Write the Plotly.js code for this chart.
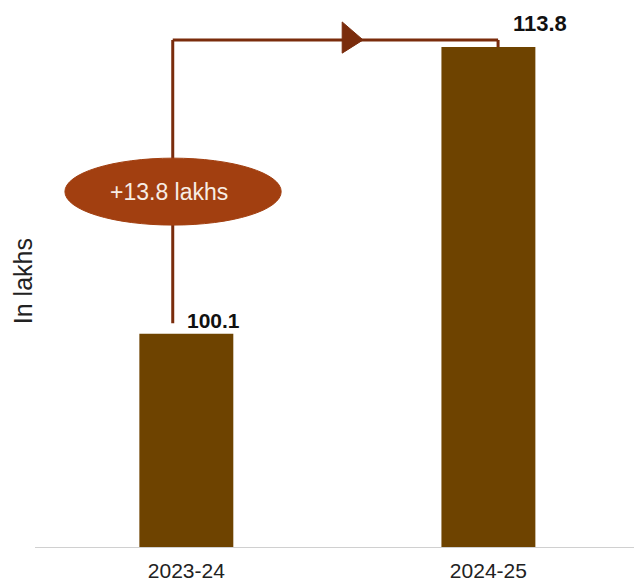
<!DOCTYPE html>
<html>
<head>
<meta charset="utf-8">
<script src="https://cdn.plot.ly/plotly-3.0.1.min.js"></script>
<style>html,body{margin:0;padding:0;background:#fff;}#chart{width:634px;height:581px;}</style>
</head>
<body>
<div id="chart"></div>
<script>
// ---- data ----
var categories = ["2023-24", "2024-25"];
var values = [100.1, 113.8];
var valueLabels = ["100.1", "113.8"];
var changeLabel = "+13.8 lakhs";
var yTitle = "In lakhs";

// ---- styles ----
var barColor = "#6E4300";
var lineColor = "#7A2C0C";
var ovalColor = "#A23F10";
var fontFam = "Arial, 'Liberation Sans', sans-serif";

var yMin = 89.9, yMax = 116.05;
var bracketTop = Math.max.apply(null, values) + 0.34;   // bracket height
var xl = -0.045, xr = 1.032;                             // bracket ends

var trace = {
  type: "bar",
  x: [0, 1],
  y: values,
  width: 0.311,
  marker: {color: barColor},
  hoverinfo: "x+y"
};

var shapes = [
  {type: "line", xref: "x", yref: "y", x0: xl, x1: xl, y0: values[0] + 0.5, y1: bracketTop,
   line: {color: lineColor, width: 3}},
  {type: "line", xref: "x", yref: "y", x0: xl, x1: xr, y0: bracketTop, y1: bracketTop,
   line: {color: lineColor, width: 3}},
  {type: "line", xref: "x", yref: "y", x0: xr, x1: xr, y0: bracketTop, y1: values[1],
   line: {color: lineColor, width: 3}},
  {type: "path", xref: "x", yref: "y",
   path: "M 0.516 " + (bracketTop + 0.86) + " L 0.585 " + bracketTop + " L 0.516 " + (bracketTop - 0.63) + " Z",
   fillcolor: lineColor, line: {color: lineColor, width: 1}},
  {type: "circle", xref: "x", yref: "y", x0: -0.402, x1: 0.314, y0: 105.29, y1: 108.49,
   fillcolor: ovalColor, line: {color: ovalColor, width: 1}}
];

var annotations = [
  {x: 0, y: values[0], xref: "x", yref: "y", text: "<b>" + valueLabels[0] + "</b>",
   showarrow: false, xanchor: "left", yanchor: "middle", xshift: -1, yshift: 13,
   font: {family: fontFam, size: 21, color: "#111"}},
  {x: 1, y: values[1], xref: "x", yref: "y", text: "<b>" + valueLabels[1] + "</b>",
   showarrow: false, xanchor: "left", yanchor: "middle", xshift: 23, yshift: 24,
   font: {family: fontFam, size: 22, color: "#111"}},
  {x: -0.058, y: 106.89, xref: "x", yref: "y", text: changeLabel,
   showarrow: false, xanchor: "center", yanchor: "middle",
   font: {family: fontFam, size: 23, color: "#F7EDE4"}},
  {x: -0.02, y: 0.486, xref: "paper", yref: "paper", text: yTitle, textangle: -90,
   showarrow: false, xanchor: "center", yanchor: "middle",
   font: {family: fontFam, size: 25, color: "#222"}}
];

var layout = {
  width: 634, height: 581,
  margin: {l: 35, r: 0, t: 0, b: 34},
  paper_bgcolor: "#ffffff", plot_bgcolor: "#ffffff",
  showlegend: false,
  font: {family: fontFam, color: "#222"},
  xaxis: {
    range: [-0.501, 1.482],
    tickmode: "array", tickvals: [0, 1], ticktext: categories,
    showline: true, linecolor: "#d0d0d0", linewidth: 1,
    showgrid: false, zeroline: false, ticks: "",
    ticklabelstandoff: 5,
    tickfont: {family: fontFam, size: 21, color: "#222"},
    fixedrange: true
  },
  yaxis: {
    range: [yMin, yMax],
    showgrid: false, zeroline: false, showline: false, showticklabels: false, ticks: "",
    fixedrange: true
  },
  shapes: shapes,
  annotations: annotations
};

Plotly.newPlot("chart", [trace], layout, {displayModeBar: false, staticPlot: true});
</script>
</body>
</html>
